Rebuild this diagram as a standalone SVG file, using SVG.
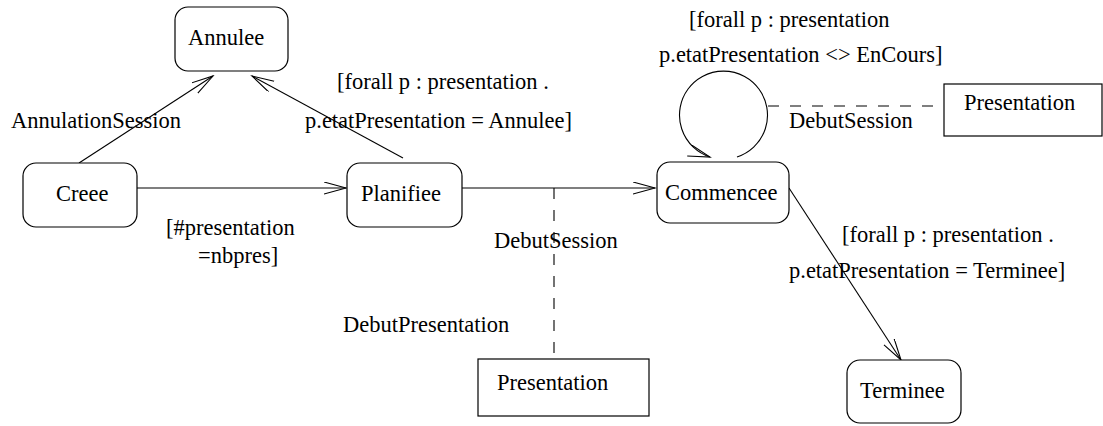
<svg xmlns="http://www.w3.org/2000/svg" width="1103" height="426" viewBox="0 0 1103 426">
  <style>
    text { font-family: 'Liberation Serif', 'Times New Roman', Times, 'DejaVu Serif', serif; font-size: 22.5px; fill: #000; }
    .state { fill: #fff; stroke: #000; stroke-width: 1.2; }
    .obj { fill: #fff; stroke: #000; stroke-width: 1.2; }
    .edge { fill: none; stroke: #000; stroke-width: 1.1; }
    .dash { fill: none; stroke: #000; stroke-width: 1.1; stroke-dasharray: 11 11; }
  </style>
  <defs>
    <marker id="open" markerUnits="userSpaceOnUse" markerWidth="24" markerHeight="14" refX="22" refY="6" orient="auto">
      <path d="M0,0 L22,6 L0,12" fill="none" stroke="#000" stroke-width="1.1"/>
    </marker>
  </defs>

  <rect width="1103" height="426" fill="#fff"/>

  <!-- transitions -->
  <g id="connectors">
    <line class="edge" x1="79" y1="163" x2="213" y2="76" marker-end="url(#open)"/>
    <line class="edge" x1="403" y1="158" x2="252" y2="76" marker-end="url(#open)"/>
    <line class="edge" x1="137" y1="188" x2="346" y2="188" marker-end="url(#open)"/>
    <line class="edge" x1="462" y1="188" x2="655" y2="188" marker-end="url(#open)"/>
    <line class="edge" x1="789" y1="188" x2="901" y2="360" marker-end="url(#open)"/>
    <path class="edge" d="M737,157 A44,44 0 1 0 710,157" marker-end="url(#open)"/>
    <line class="dash" x1="554" y1="188" x2="554" y2="359"/>
    <line class="dash" x1="768" y1="106" x2="944" y2="106"/>
  </g>

  <!-- transition labels -->
  <g id="labels" font-family="Liberation Serif, serif">
    <text x="11" y="128">AnnulationSession</text>
    <text x="337" y="89">[forall p : presentation .</text>
    <text x="305" y="128">p.etatPresentation = Annulee]</text>
    <text x="166" y="235">[#presentation</text>
    <text x="198" y="263">=nbpres]</text>
    <text x="494" y="248">DebutSession</text>
    <text x="343" y="332">DebutPresentation</text>
    <text x="689" y="27">[forall p : presentation</text>
    <text x="659" y="62">p.etatPresentation &lt;&gt; EnCours]</text>
    <text x="789" y="128">DebutSession</text>
    <text x="842" y="242">[forall p : presentation .</text>
    <text x="789" y="278">p.etatPresentation = Terminee]</text>
  </g>

  <g id="annulee">
    <rect class="state" x="175" y="7" width="113" height="64" rx="13"/>
    <text x="188" y="45">Annulee</text>
  </g>
  <g id="creee">
    <rect class="state" x="23" y="163" width="114" height="64" rx="13"/>
    <text x="56" y="201">Creee</text>
  </g>
  <g id="planifiee">
    <rect class="state" x="347" y="163" width="115" height="64" rx="13"/>
    <text x="361" y="201">Planifiee</text>
  </g>
  <g id="commencee">
    <rect class="state" x="657" y="162" width="132" height="61" rx="13"/>
    <text x="665" y="200">Commencee</text>
  </g>
  <g id="terminee">
    <rect class="state" x="847" y="360" width="114" height="63" rx="13"/>
    <text x="860" y="398">Terminee</text>
  </g>
  <g id="presentation-bottom">
    <rect class="obj" x="478" y="359" width="171" height="57"/>
    <text x="497" y="390">Presentation</text>
  </g>
  <g id="presentation-right">
    <rect class="obj" x="944" y="84" width="158" height="52"/>
    <text x="964" y="110">Presentation</text>
  </g>
</svg>
